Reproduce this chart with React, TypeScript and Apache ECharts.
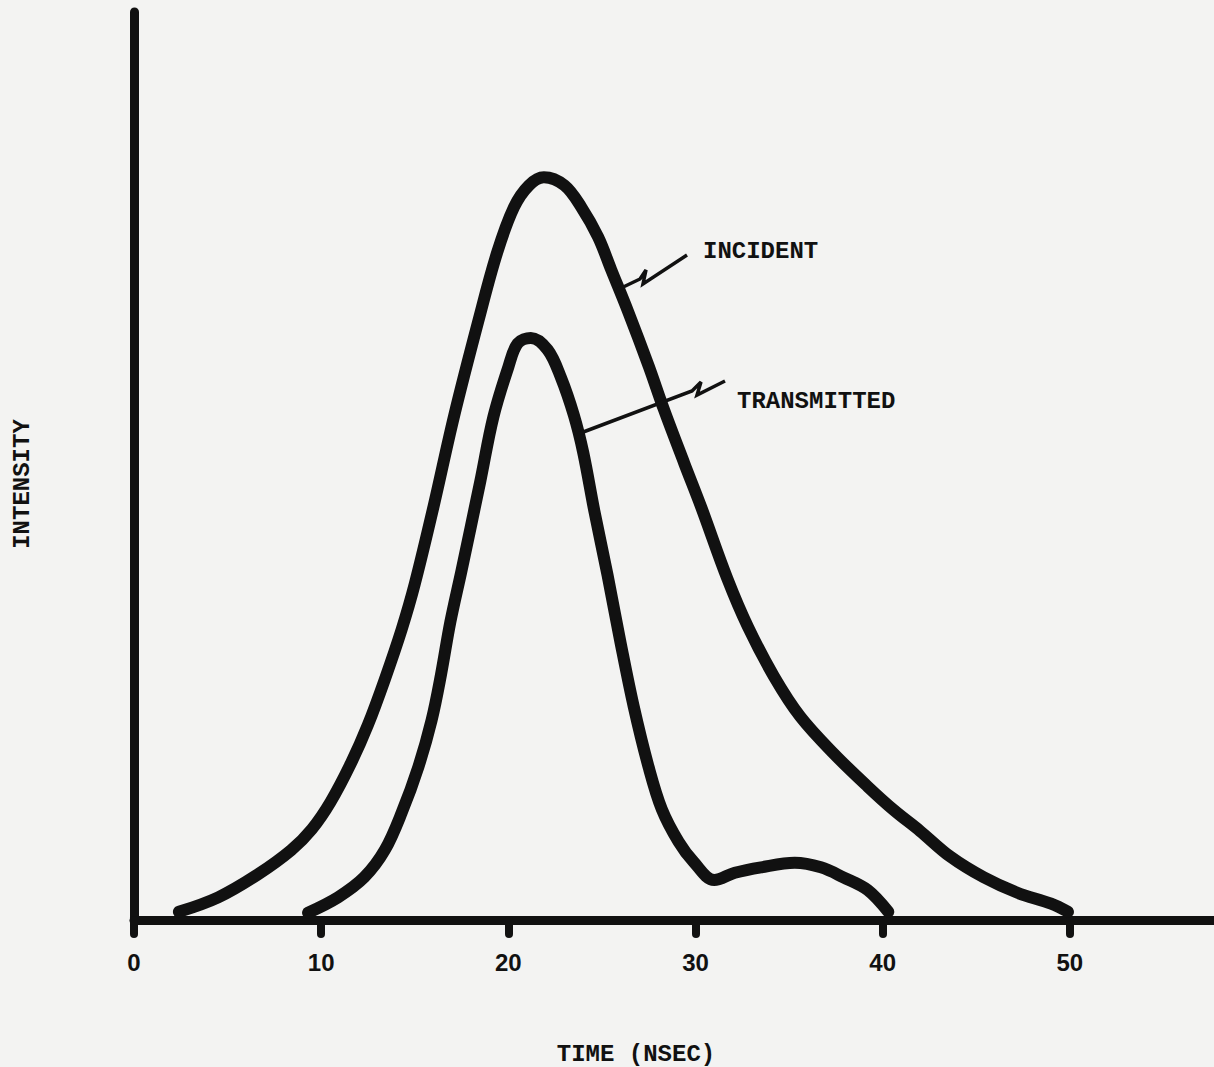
import React, { useEffect, useRef } from "react";
import * as echarts from "echarts";

const xTicks = [0, 10, 20, 30, 40, 50];

const incidentTime = [2.4, 4.5, 6.6, 8.4, 9.5, 10.5, 11.6, 12.5, 13.4, 14.3, 15.0, 16.0, 17.1, 18.4, 19.4, 20.3, 21.1, 21.9, 23.0, 23.9, 24.8, 25.5, 26.4, 27.5, 28.3, 29.4, 30.3, 31.7, 32.8, 34.2, 35.6, 37.4, 39.2, 40.6, 42.0, 43.6, 45.4, 47.2, 49.0, 49.9];
const incidentValue = [0.9, 2.5, 5.0, 7.7, 10.0, 13.0, 17.3, 21.5, 26.5, 32.0, 37.0, 45.5, 55.5, 66.0, 73.5, 78.5, 80.9, 81.8, 80.9, 78.5, 75.2, 71.6, 67.0, 61.0, 56.3, 50.3, 45.5, 37.6, 32.3, 26.8, 22.4, 18.3, 14.7, 12.1, 9.8, 7.0, 4.7, 3.0, 1.8, 0.9];

const transmittedTime = [9.3, 10.9, 12.3, 13.4, 14.3, 15.2, 15.9, 16.4, 16.9, 17.5, 18.5, 19.2, 20.0, 20.5, 21.2, 22.1, 22.8, 23.5, 24.0, 24.6, 25.3, 26.0, 26.7, 27.5, 28.2, 29.1, 29.9, 31.0, 32.1, 33.5, 35.3, 36.7, 37.9, 39.2, 40.3];
const transmittedValue = [0.8, 2.5, 4.7, 7.7, 11.8, 16.9, 22.0, 27.0, 32.8, 38.5, 48.3, 55.4, 60.9, 63.5, 64.1, 62.8, 59.8, 55.6, 51.5, 45.0, 38.0, 30.5, 23.5, 16.8, 12.2, 8.6, 6.4, 4.4, 5.2, 5.8, 6.3, 5.8, 4.7, 3.3, 0.9];

const seriesNames = ["INCIDENT", "TRANSMITTED"];
const xAxisTitle = "TIME (NSEC)";
const yAxisTitle = "INTENSITY";

const INK = "#111111";
const MONO = "'Liberation Mono', 'DejaVu Sans Mono', monospace";

function pairs(xs: number[], ys: number[]) {
  return xs.map((x, i) => [x, ys[i]]);
}

export default function App() {
  const ref = useRef<HTMLDivElement>(null);

  useEffect(() => {
    if (!ref.current) return;
    const chart = echarts.init(ref.current, undefined, { renderer: "svg" });
    const lineSeries = (name: string, data: number[][]) => ({
      name,
      type: "line",
      data,
      showSymbol: false,
      smooth: 0.35,
      z: 3,
      lineStyle: { color: INK, width: 12, cap: "round", join: "round" },
    });
    chart.setOption({
      animation: false,
      backgroundColor: "#f3f3f2",
      grid: {
        left: 134,
        top: 12,
        width: 1123,
        height: 908,
        containLabel: false,
        outerBoundsMode: "none",
      },
      xAxis: {
        type: "value",
        min: 0,
        max: 60,
        interval: 10,
        splitLine: { show: false },
        axisLine: { lineStyle: { color: INK, width: 9, cap: "round" } },
        axisTick: {
          show: true,
          length: 14,
          lineStyle: { color: INK, width: 8, cap: "round" },
        },
        axisLabel: {
          margin: 30,
          color: INK,
          fontFamily: "'Liberation Sans', Arial, sans-serif",
          fontWeight: "bold",
          fontSize: 24,
          formatter: (v: number) => (xTicks.includes(v) ? String(v) : ""),
        },
      },
      yAxis: {
        type: "value",
        min: 0,
        max: 100,
        splitLine: { show: false },
        axisLine: { show: true, lineStyle: { color: INK, width: 9, cap: "round" } },
        axisTick: { show: false },
        axisLabel: { show: false },
      },
      series: [
        lineSeries(seriesNames[0], pairs(incidentTime, incidentValue)),
        lineSeries(seriesNames[1], pairs(transmittedTime, transmittedValue)),
      ],
      graphic: [
        {
          type: "polyline",
          z: 10,
          shape: { points: [[617, 290], [640, 279], [646, 270], [643, 284], [687, 255]] },
          style: { stroke: INK, lineWidth: 3.5, fill: null, lineJoin: "miter" },
        },
        {
          type: "polyline",
          z: 10,
          shape: { points: [[578, 434], [692, 391], [701, 382], [697, 395], [725, 381]] },
          style: { stroke: INK, lineWidth: 3.5, fill: null, lineJoin: "miter" },
        },
        {
          type: "text",
          z: 10,
          x: 703,
          y: 251,
          style: {
            text: seriesNames[0],
            font: `bold 24px ${MONO}`,
            fill: INK,
            textAlign: "left",
            textVerticalAlign: "middle",
          },
        },
        {
          type: "text",
          z: 10,
          x: 737,
          y: 401,
          style: {
            text: seriesNames[1],
            font: `bold 24px ${MONO}`,
            fill: INK,
            textAlign: "left",
            textVerticalAlign: "middle",
          },
        },
        {
          type: "text",
          z: 10,
          x: 636,
          y: 1054,
          style: {
            text: xAxisTitle,
            font: `bold 24px ${MONO}`,
            fill: INK,
            textAlign: "center",
            textVerticalAlign: "middle",
          },
        },
        {
          type: "text",
          z: 10,
          x: 22,
          y: 484,
          rotation: Math.PI / 2,
          style: {
            text: yAxisTitle,
            font: `bold 24px ${MONO}`,
            fill: INK,
            textAlign: "center",
            textVerticalAlign: "middle",
          },
        },
      ],
    });
    return () => chart.dispose();
  }, []);

  return (
    <div
      ref={ref}
      style={{ position: "fixed", left: 0, top: 0, width: 1214, height: 1067 }}
    />
  );
}
